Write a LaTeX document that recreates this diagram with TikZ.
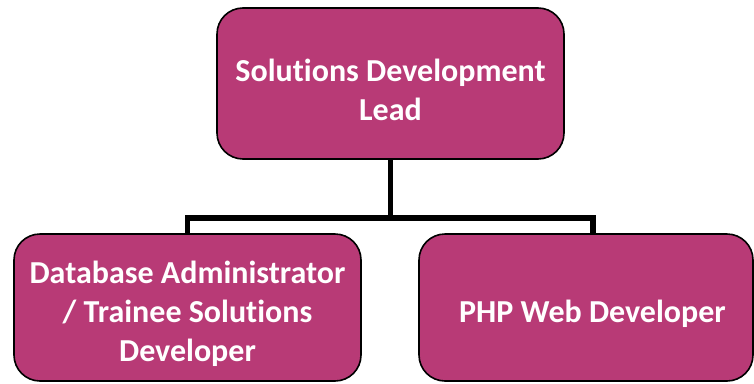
\documentclass[tikz,border=0pt]{standalone}
\usepackage{fontspec}
\setmainfont{Carlito}[Ligatures=NoCommon]
\definecolor{rolefill}{RGB}{184,58,118}
\newcommand{\lift}{\rule{0pt}{36pt}}
\begin{document}
\begin{tikzpicture}[x=1pt,y=-1pt]
	\tikzstyle{Role}=[rectangle,rounded corners=26pt,draw=black,line width=1.6pt,fill=rolefill,text=white,font=\fontsize{32}{39}\selectfont\bfseries,align=center,minimum width=347pt]
	\tikzstyle{Link}=[line width=5.5pt,draw=black]
	\useasboundingbox (0,0) rectangle (754,383);
	\begin{scope}
	\node[Role,minimum height=151pt] (lead) at (390.5,83.5)  {\lift Solutions Development\\Lead};
	\node[Role,minimum height=147pt] (dba)  at (187.5,307.5) {\lift Database Administrator\\/ Trainee Solutions\\Developer};
	\node[Role,minimum height=147pt,minimum width=334pt] (php) at (586,307.5) {\lift\hspace*{13pt}PHP Web Developer};
	\coordinate (bus)     at (390.5,218);
	\coordinate (phpdrop) at (593,234);
	\end{scope}

	\draw[Link] (lead.south) -- (bus);
	\draw[Link] (dba.north) |- (bus) -| (phpdrop);
\end{tikzpicture}
\end{document}
